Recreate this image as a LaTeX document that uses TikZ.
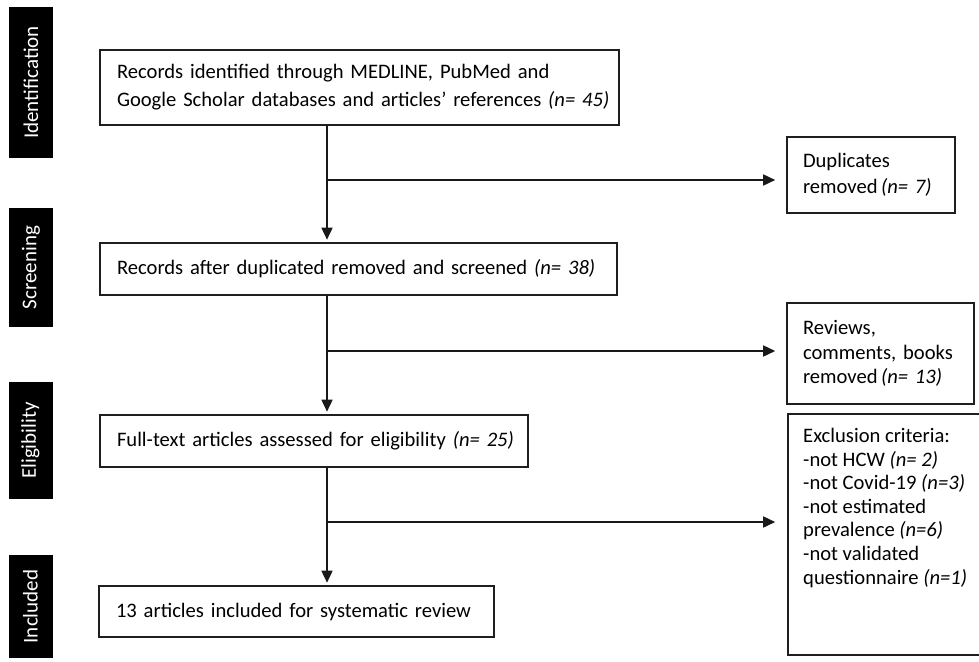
\documentclass[tikz,border=0pt]{standalone}
\usepackage{fontspec}
\setmainfont{Carlito}
\usetikzlibrary{arrows.meta}
\begin{document}
\begin{tikzpicture}[x=1pt,y=-1pt,
  box/.style={draw=black!88, line width=1.6pt, rectangle, align=left,
    inner xsep=17pt, inner ysep=0pt, font=\fontsize{20.6}{28}\selectfont},
  sidebox/.style={draw=black!88, line width=1.6pt, rectangle, align=left,
    inner xsep=16pt, inner ysep=0pt},
  phase/.style={fill=black, rectangle, text=white, rotate=90, inner sep=0pt,
    minimum height=44pt, font=\fontsize{21}{25}\selectfont},
  arr/.style={line width=1.6pt, draw=black!90, -{Triangle[length=12pt,width=11pt]}},
  conn/.style={line width=1.6pt, draw=black!90}]
\useasboundingbox (0,0) rectangle (979,661);
\clip (0,0) rectangle (979,661);

% phase labels
\node[phase, minimum width=151pt] (p1) at (31,82.5) {Identification};
\node[phase, minimum width=119pt] (p2) at (31,267.5) {Screening};
\node[phase, minimum width=117pt] (p3) at (30.5,440.5) {Eligibility};
\node[phase, minimum width=103pt] (p4) at (30.5,606.5) {Included};

% main boxes
\node[box, minimum height=75pt, text width=485pt] (b1) at (359.5,87.5)
  {\mbox{Records identified through MEDLINE, PubMed and}\\
   \mbox{Google Scholar databases and articles’ references \textit{(n= 45)}}};
\node[box, minimum height=52pt, text width=483pt] (b2) at (358.5,269)
  {\mbox{Records after duplicated removed and screened \textit{(n= 38)}}};
\node[box, minimum height=52pt, text width=394pt] (b3) at (314,441)
  {\mbox{Full-text articles assessed for eligibility \textit{(n= 25)}}};
\node[box, minimum height=51pt, text width=361pt] (b4) at (296.5,611.5)
  {\mbox{13 articles included for systematic review}};

% side boxes
\node[sidebox, minimum height=76pt, text width=136pt,
  font=\fontsize{20.6}{26}\selectfont] (d1) at (871,175)
  {Duplicates\\ \mbox{removed\,\textit{(n= 7)}}};
\node[sidebox, minimum height=101pt, text width=155pt,
  font=\fontsize{20.6}{24.5}\selectfont] (d2) at (880.5,353.5)
  {Reviews,\\ \mbox{comments, books}\\ \mbox{removed\,\textit{(n= 13)}}};
\node[draw=black!88, line width=1.6pt, rectangle, minimum width=200pt,
  minimum height=241pt, inner sep=0pt] (d3) at (888,534.5) {};
\node[anchor=north west, align=left, inner sep=0pt,
  font=\fontsize{20.6}{23.6}\selectfont] (d3t) at (803,428)
  {Exclusion criteria:\\
   -not HCW \textit{(n= 2)}\\
   -not Covid-19 \textit{(n=3)}\\
   -not estimated\\
   prevalence \textit{(n=6)}\\
   -not validated\\
   questionnaire \textit{(n=1)}};

% junctions
\coordinate (j1) at (327,180);
\coordinate (j2) at (327,351);
\coordinate (j3) at (327,522);

% vertical arrows
\draw[arr, shorten >=2.5pt] (b1.south -| j1) -- (b2.north -| j1);
\draw[arr, shorten >=2.5pt] (b2.south -| j2) -- (b3.north -| j2);
\draw[arr, shorten >=2.5pt] (b3.south -| j3) -- (b4.north -| j3);

% horizontal arrows
\draw[arr, shorten >=11pt] (j1) -- (j1 -| d1.west);
\draw[arr, shorten >=11pt] (j2) -- (j2 -| d2.west);
\draw[arr, shorten >=12pt] (j3) -- (j3 -| d3.west);
\end{tikzpicture}
\end{document}
